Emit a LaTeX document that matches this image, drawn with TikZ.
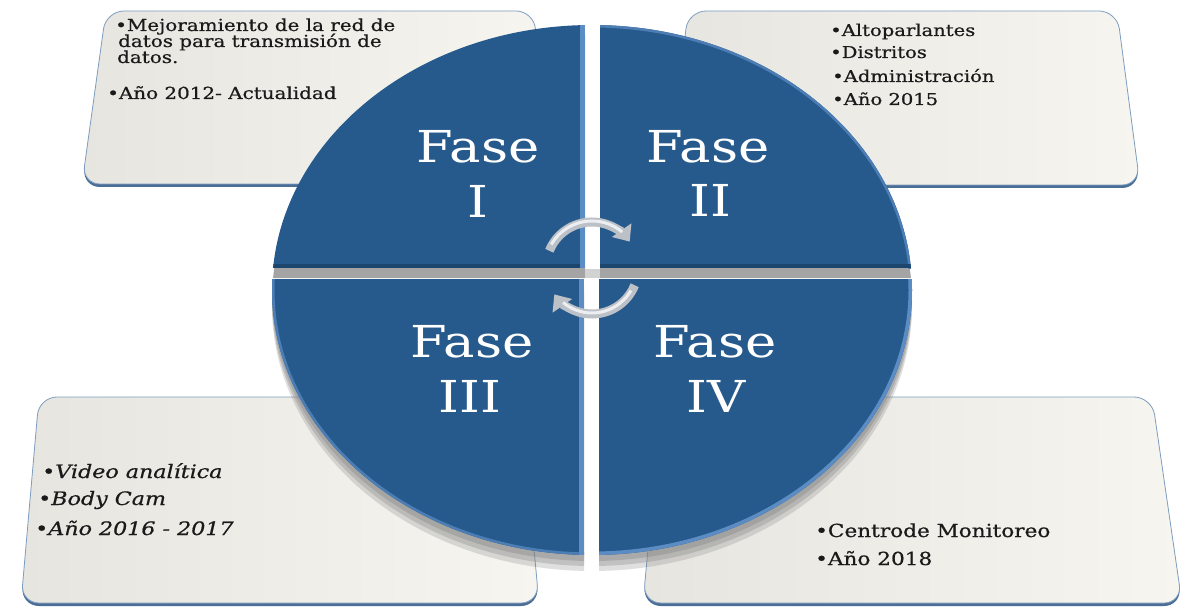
\documentclass[tikz,border=0pt]{standalone}
\usepackage{fontspec}
\setmainfont{DejaVu Serif}
\newfontfamily\bodyfont[FakeBold=0.6]{DejaVu Serif}
\usetikzlibrary{arrows.meta,calc}
\definecolor{qblue}{HTML}{275A8C}
\definecolor{qdark}{HTML}{1D466F}
\definecolor{qlight}{HTML}{5B8CC4}
\definecolor{qrim}{HTML}{4C7DB4}
\definecolor{boxA}{HTML}{E6E5E0}
\definecolor{boxB}{HTML}{F6F5F0}
\definecolor{boxline}{HTML}{7E9DC0}
\definecolor{boxshadow}{HTML}{4A6E95}
\definecolor{bandgray}{HTML}{A4A4A4}
\definecolor{gapgray}{HTML}{D2D2D2}
\definecolor{arrgray}{HTML}{BCC0C7}
\definecolor{arrhi}{HTML}{ECEEF1}
\definecolor{txtcol}{HTML}{1A1A1A}
\newcommand\sx[1]{\scalebox{1.2}[1]{#1}}
\begin{document}
\begin{tikzpicture}[x=1pt,y=-1pt,
  infobox/.style={rounded corners=18pt, left color=boxA, right color=boxB, draw=boxline, line width=0.8pt},
  boxshade/.style={rounded corners=18pt, fill=boxshadow},
  txt/.style={anchor=base west, inner sep=0pt, text=txtcol},
  fase/.style={anchor=base, inner sep=0pt, text=white, font=\fontsize{44pt}{50pt}\selectfont},
  arr/.style={line width=9pt, draw=arrgray, -{Triangle[width=23pt,length=14pt,fill=arrgray]}},
  arrhl/.style={line width=3pt, draw=arrhi}]
\useasboundingbox (0,0) rectangle (1184,607);
\fill[white] (0,0) rectangle (1184,607);

% ---- info boxes (behind the disc) ----
\fill[boxshade] (106,14) -- (534,14) -- (548,187) -- (82,187) -- cycle;
\path[infobox] (106,11) -- (534,11) -- (548,184) -- (82,184) -- cycle;
\fill[boxshade] (688,14) -- (1117,14) -- (1140,188) -- (668,188) -- cycle;
\path[infobox] (688,11) -- (1117,11) -- (1140,185) -- (668,185) -- cycle;
\fill[boxshade] (39,400) -- (520,400) -- (539,606) -- (21,606) -- cycle;
\path[infobox] (39,397) -- (520,397) -- (539,603) -- (21,603) -- cycle;
\fill[boxshade] (662,400) -- (1152,400) -- (1182,606) -- (643,606) -- cycle;
\path[infobox] (662,397) -- (1152,397) -- (1182,603) -- (643,603) -- cycle;

% ---- shadows of the quadrants ----
\begin{scope}[yshift=-10pt]
  \clip (0,0) rectangle (585,268) (600,0) rectangle (1184,268);
  \fill[bandgray] (592,290) ellipse [x radius=320pt, y radius=265pt];
\end{scope}
\fill[gapgray] (585,269) rectangle (600,278);
\foreach \s/\o in {6/0.35,11/0.3,16/0.25}{
\begin{scope}[yshift=-\s pt]
  \clip (0,279) rectangle (584,607) (599,279) rectangle (1184,607);
  \fill[gray, opacity=\o] (592,290) ellipse [x radius=320pt, y radius=265pt];
\end{scope}}

% ---- quadrants ----
\begin{scope}
  \clip (0,0) rectangle (585,268);
  \clip (592,290) ellipse [x radius=320pt, y radius=265pt];
  \fill[qblue] (0,0) rectangle (585,268);
  \fill[qdark] (0,264) rectangle (585,268);
  \fill[qlight] (580,0) rectangle (585,268);
\end{scope}
\begin{scope}
  \clip (600,0) rectangle (1184,268);
  \clip (592,290) ellipse [x radius=320pt, y radius=265pt];
  \fill[qblue] (600,0) rectangle (1184,268);
  \draw[qrim, line width=5pt] (592,290) ellipse [x radius=320pt, y radius=265pt];
  \fill[qdark] (600,264) rectangle (1184,268);
\end{scope}
\begin{scope}
  \clip (0,279) rectangle (584,607);
  \clip (592,290) ellipse [x radius=320pt, y radius=265pt];
  \fill[qblue] (0,279) rectangle (584,607);
  \draw[qrim, line width=5pt] (592,290) ellipse [x radius=320pt, y radius=265pt];
  \fill[qlight] (579,279) rectangle (584,607);
\end{scope}
\begin{scope}
  \clip (599,279) rectangle (1184,607);
  \clip (592,290) ellipse [x radius=320pt, y radius=265pt];
  \fill[qblue] (599,279) rectangle (1184,607);
  \draw[qlight, line width=7pt] (592,290) ellipse [x radius=320pt, y radius=265pt];
\end{scope}

% ---- phase labels ----
\node[fase] (f1a) at (478,163) {\sx{Fase}};
\node[fase] (f1b) at (478,218) {\sx{I}};
\node[fase] (f2a) at (708,163) {\sx{Fase}};
\node[fase] (f2b) at (710,216) {\sx{II}};
\node[fase] (f3a) at (472,357) {\sx{Fase}};
\node[fase] (f3b) at (470,412) {\sx{III}};
\node[fase] (f4a) at (715,357) {\sx{Fase}};
\node[fase] (f4b) at (716,412) {\sx{IV}};

% ---- cycle arrows ----
\coordinate (ac) at (592,268);
\draw[arr] ($(ac)+(158:46pt)$) arc[start angle=158, end angle=35, radius=46pt];
\draw[arr] ($(ac)+(-22:46pt)$) arc[start angle=-22, end angle=-145, radius=46pt];
\draw[arrhl] ($(ac)+(150:47pt)$) arc[start angle=150, end angle=50, radius=47pt];
\draw[arrhl] ($(ac)+(-30:45pt)$) arc[start angle=-30, end angle=-130, radius=45pt];

% ---- box texts ----
\begin{scope}[every node/.append style={font=\bodyfont\fontsize{16.6pt}{20pt}\selectfont}]
\node[txt] (t1a) at (115,31) {\sx{•Mejoramiento de la red de}};
\node[txt] (t1b) at (118,47) {\sx{datos para transmisión de}};
\node[txt] (t1c) at (117,63) {\sx{datos.}};
\node[txt] (t1d) at (107,99) {\sx{•Año 2012- Actualidad}};
\end{scope}
\begin{scope}[every node/.append style={font=\bodyfont\fontsize{16.3pt}{20pt}\selectfont}]
\node[txt] (t2a) at (830,36) {\sx{•Altoparlantes}};
\node[txt] (t2b) at (830,58) {\sx{•Distritos}};
\node[txt] (t2c) at (832,82) {\sx{•Administración}};
\node[txt] (t2d) at (832,105) {\sx{•Año 2015}};
\end{scope}
\begin{scope}[every node/.append style={font=\bodyfont\fontsize{18.5pt}{22pt}\selectfont\itshape}]
\node[txt] (t3a) at (42,478) {\sx{•Video analítica}};
\node[txt] (t3b) at (38,505) {\sx{•Body Cam}};
\node[txt] (t3c) at (35,535) {\sx{•Año 2016 - 2017}};
\end{scope}
\begin{scope}[every node/.append style={font=\bodyfont\fontsize{18pt}{22pt}\selectfont}]
\node[txt] (t4a) at (815,537) {\sx{•Centrode Monitoreo}};
\node[txt] (t4b) at (815,565) {\sx{•Año 2018}};
\end{scope}
\end{tikzpicture}
\end{document}
